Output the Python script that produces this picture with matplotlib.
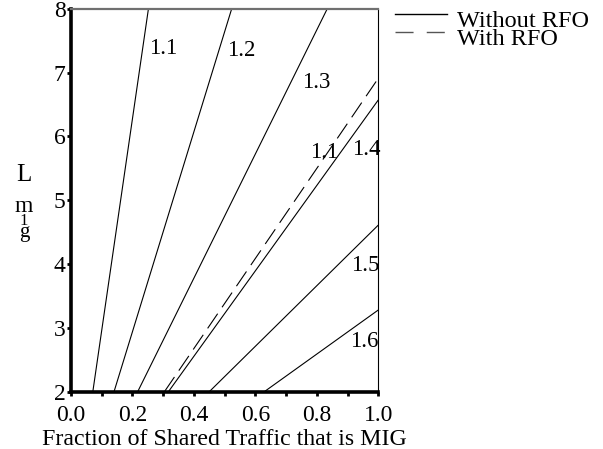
import matplotlib
matplotlib.use("Agg")
import matplotlib.pyplot as plt
from matplotlib.lines import Line2D
import numpy as np

plt.rcParams['font.family'] = ['Liberation Serif', 'DejaVu Serif']

# Contour lines (straight segments): start point and end point in data units
solid_levels = ['1.1', '1.2', '1.3', '1.4', '1.5', '1.6']
solid_x0 = [0.071, 0.140, 0.217, 0.317, 0.450, 0.629]
solid_y0 = [2, 2, 2, 2, 2, 2]
solid_x1 = [0.252, 0.523, 0.834, 1.0, 1.0, 1.0]
solid_y1 = [8, 8, 8, 6.57, 4.61, 3.28]

dashed_levels = ['1.1']
dashed_x0 = [0.304]
dashed_y0 = [2]
dashed_x1 = [1.0]
dashed_y1 = [6.91]

# Label positions (data units) for each level label
label_text = ['1.1', '1.2', '1.3', '1.1', '1.4', '1.5', '1.6']
label_x = [0.299, 0.553, 0.797, 0.823, 0.960, 0.957, 0.953]
label_y = [7.37, 7.34, 6.84, 5.74, 5.79, 3.98, 2.78]

xticks = [0.0, 0.2, 0.4, 0.6, 0.8, 1.0]
xtick_labels = ['0.0', '0.2', '0.4', '0.6', '0.8', '1.0']
yticks = [2, 3, 4, 5, 6, 7, 8]

W, H = 603, 449
fig = plt.figure(figsize=(W / 100, H / 100), dpi=100)
ax = fig.add_axes([71 / W, 1 - 391.7 / H, (378.3 - 71) / W, (391.7 - 8.7) / H])

for x0, y0, x1, y1 in zip(solid_x0, solid_y0, solid_x1, solid_y1):
    ax.plot([x0, x1], [y0, y1], color='black', lw=0.8, solid_capstyle='butt')
for x0, y0, x1, y1 in zip(dashed_x0, dashed_y0, dashed_x1, dashed_y1):
    ax.plot([x0, x1], [y0, y1], color='black', lw=0.8, dashes=(16, 7))

for t, x, y in zip(label_text, label_x, label_y):
    ax.text(x, y, t, fontsize=16.5, ha='center', va='center')

ax.set_xlim(0, 1)
ax.set_ylim(2, 8)
ax.set_xticks(xticks)
ax.set_xticklabels(xtick_labels)
ax.set_xticks(np.arange(0.1, 1.0, 0.2), minor=True)
ax.set_yticks(yticks)
ax.tick_params(axis='both', which='both', direction='out', length=3, width=2,
               labelsize=17)
ax.tick_params(axis='y', pad=1)
ax.tick_params(axis='x', pad=6.5)

ax.spines['left'].set_linewidth(2.6)
ax.spines['bottom'].set_linewidth(2.6)
ax.spines['top'].set_color('#707070')
ax.spines['top'].set_linewidth(1.6)
ax.spines['right'].set_linewidth(0.8)

ax.set_xlabel('Fraction of Shared Traffic that is MIG', fontsize=17.2, labelpad=2)

# Stacked y-axis label
fig.text(24 / W, 1 - 175 / H, 'L', fontsize=18, ha='center', va='center')
fig.text(24 / W, 1 - 206 / H, 'm', fontsize=17, ha='center', va='center')
fig.text(24 / W, 1 - 221 / H, '1', fontsize=12, ha='center', va='center')
fig.text(24 / W, 1 - 232 / H, 'g', fontsize=15, ha='center', va='center')

# Legend drawn at figure level
fig.add_artist(Line2D([395 / W, 447 / W], [1 - 14 / H] * 2, color='black', lw=1.0))
fig.add_artist(Line2D([395 / W, 447 / W], [1 - 32 / H] * 2, color='#555555', lw=1.0,
                      dashes=(13, 9.5)))
fig.text(457 / W, 1 - 27 / H, 'Without RFO', fontsize=17.5, ha='left', va='baseline')
fig.text(457 / W, 1 - 45 / H, 'With RFO', fontsize=17.5, ha='left', va='baseline')

fig.savefig('out.png', dpi=100)
